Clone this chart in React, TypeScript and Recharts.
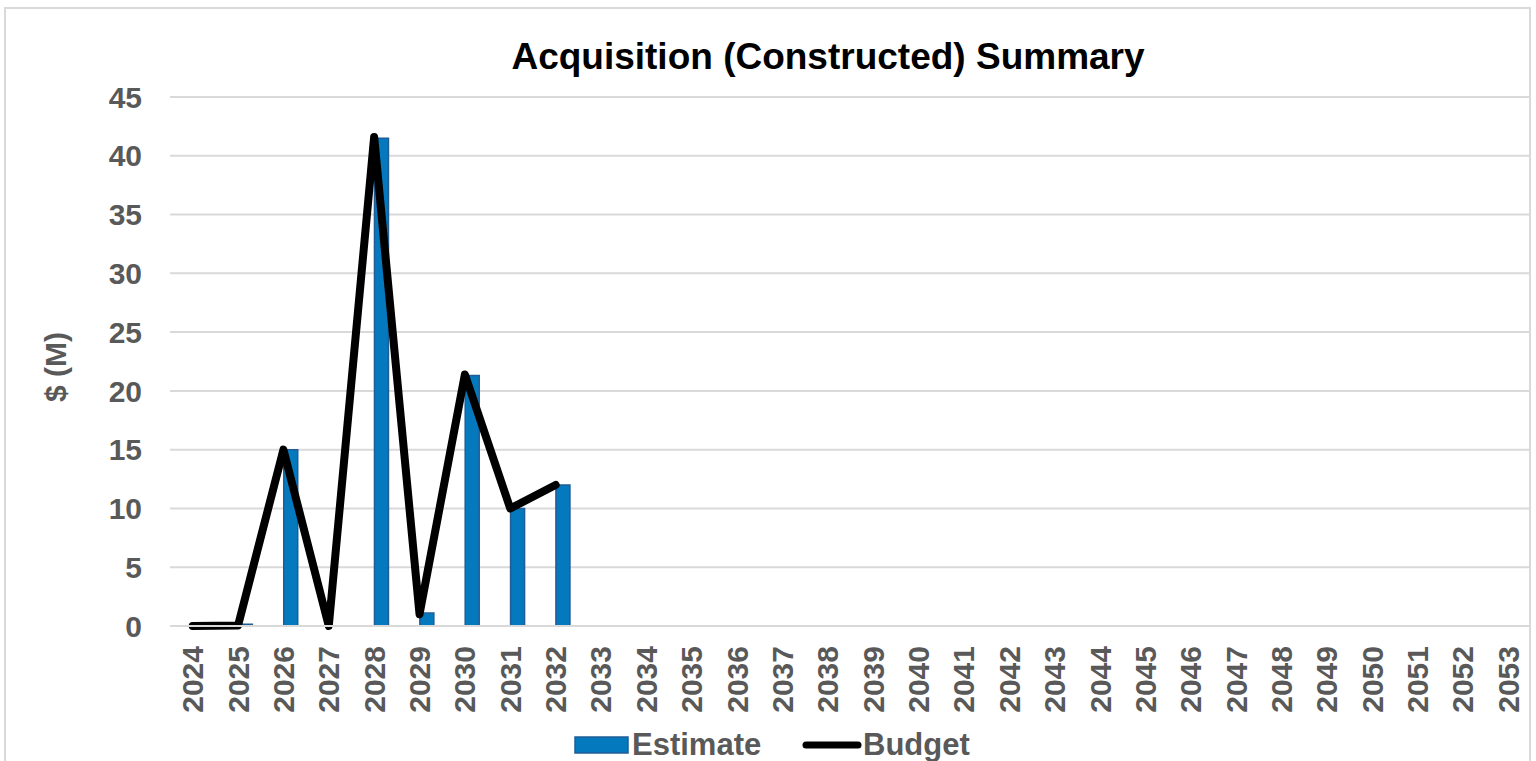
import React from 'react';
import { Bar, CartesianGrid, ComposedChart, Line, XAxis, YAxis } from 'recharts';

// Values ($M)
const years = [
  '2024', '2025', '2026', '2027', '2028', '2029', '2030', '2031', '2032', '2033',
  '2034', '2035', '2036', '2037', '2038', '2039', '2040', '2041', '2042', '2043',
  '2044', '2045', '2046', '2047', '2048', '2049', '2050', '2051', '2052', '2053',
];
const estimate: (number | null)[] = [0, 0.15, 15, 0, 41.5, 1.1, 21.3, 10, 12];
const budget: (number | null)[] = [0, 0.05, 15, 0, 41.6, 1, 21.4, 10, 12];
const yTicks = [0, 5, 10, 15, 20, 25, 30, 35, 40, 45];
const seriesNames = { estimate: 'Estimate', budget: 'Budget' };

const data = years.map((year, i) => ({
  year,
  estimate: i < estimate.length ? estimate[i] : null,
  budget: i < budget.length ? budget[i] : null,
}));

const FONT = '"Liberation Sans", Arial, sans-serif';
const GRAY = '#595959';
const BLUE = '#0579BE';
const BLUE_EDGE = '#1F5D96';

function YearTick({ x, y, payload }: any) {
  return (
    <text
      x={x}
      y={y + 12}
      transform={`rotate(-90 ${x} ${y + 12})`}
      textAnchor="end"
      dominantBaseline="central"
      fill={GRAY}
      fontSize={30}
      fontWeight="bold"
      fontFamily={FONT}
    >
      {payload.value}
    </text>
  );
}

export default function App() {
  return (
    <div style={{ position: 'absolute', left: 0, top: 0, width: 1536, height: 761, background: '#fff', fontFamily: FONT }}>
      <ComposedChart
        width={1536}
        height={761}
        data={data}
        margin={{ top: 97, right: 5, left: 0, bottom: 35 }}
        barGap={0}
        barSize={14}
      >
        <CartesianGrid vertical={false} stroke="#d9d9d9" strokeWidth={2} />
        <XAxis
          dataKey="year"
          height={100}
          interval={0}
          tickLine={false}
          axisLine={{ stroke: '#d9d9d9', strokeWidth: 2 }}
          tick={<YearTick />}
        />
        <YAxis
          width={170}
          domain={[0, 45]}
          ticks={yTicks}
          tickLine={false}
          axisLine={false}
          tickSize={0}
          tickMargin={28}
          tick={{ fill: GRAY, fontSize: 30, fontWeight: 'bold', fontFamily: FONT }}
        />
        {/* empty slot so the estimate bar sits right of the category centre, as in the original */}
        <Bar dataKey="budget" fill="none" stroke="none" legendType="none" isAnimationActive={false} />
        <Bar
          dataKey="estimate"
          name={seriesNames.estimate}
          fill={BLUE}
          stroke={BLUE_EDGE}
          strokeWidth={1.5}
          isAnimationActive={false}
        />
        <Line
          type="linear"
          dataKey="budget"
          name={seriesNames.budget}
          stroke="#000"
          strokeWidth={8}
          strokeLinejoin="round"
          strokeLinecap="round"
          dot={false}
          activeDot={false}
          isAnimationActive={false}
        />
      </ComposedChart>
      <svg width={1536} height={761} style={{ position: 'absolute', left: 0, top: 0, pointerEvents: 'none' }}>
        <rect x={5} y={8} width={1525} height={770} fill="none" stroke="#d9d9d9" strokeWidth={2} />
        <text x={828} y={69} textAnchor="middle" fontSize={37} fontWeight="bold" fill="#000" fontFamily={FONT}>
          Acquisition (Constructed) Summary
        </text>
        <text
          x={55}
          y={367}
          transform="rotate(-90 55 367)"
          textAnchor="middle"
          dominantBaseline="central"
          fontSize={30}
          fontWeight="bold"
          fill={GRAY}
          fontFamily={FONT}
        >
          $ (M)
        </text>
        <rect x={575} y={737} width={53} height={16} fill={BLUE} stroke={BLUE_EDGE} strokeWidth={1.5} />
        <text x={632} y={755} fontSize={31} fontWeight="bold" fill={GRAY} fontFamily={FONT}>
          {seriesNames.estimate}
        </text>
        <line x1={806} y1={745} x2={858} y2={745} stroke="#000" strokeWidth={7} strokeLinecap="round" />
        <text x={863} y={755} fontSize={31} fontWeight="bold" fill={GRAY} fontFamily={FONT}>
          {seriesNames.budget}
        </text>
      </svg>
    </div>
  );
}
